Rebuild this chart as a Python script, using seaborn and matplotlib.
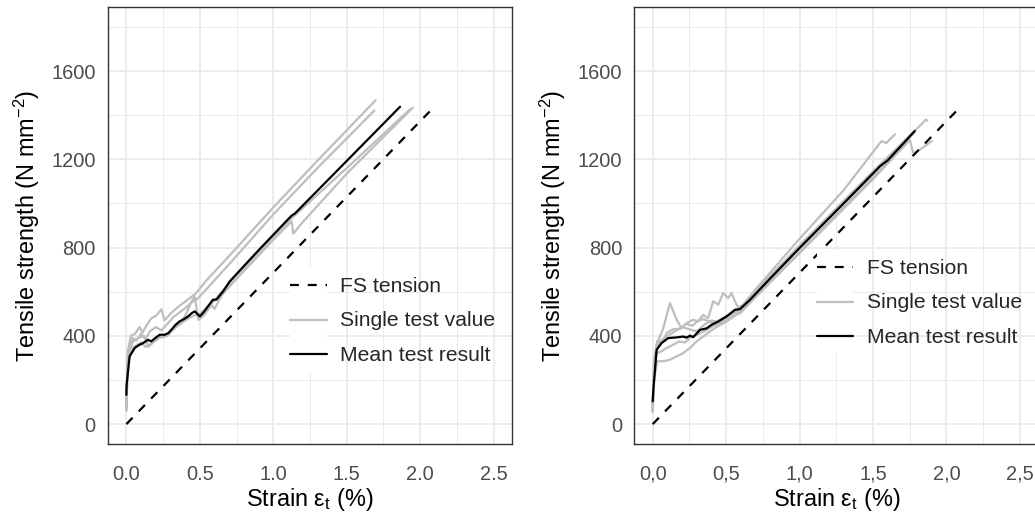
import numpy as np
import pandas as pd
import matplotlib
matplotlib.use("Agg")
import matplotlib.pyplot as plt
import seaborn as sns
from matplotlib.lines import Line2D
from matplotlib.patches import Rectangle
from matplotlib.legend_handler import HandlerLine2D
from matplotlib.ticker import MultipleLocator, FuncFormatter

# ---------------------------------------------------------------- data
# Design line (FS tension), identical for both series
fs_strain = [0.0, 2.1]
fs_stress = [0.0, 1441.0]

# Left panel: mean curve
left_mean_strain = [0.0, 0.002, 0.022, 0.057, 0.085, 0.113, 0.147, 0.17, 0.2, 0.227,
                    0.26, 0.285, 0.307, 0.335, 0.363, 0.39, 0.42, 0.445, 0.466, 0.5,
                    0.53, 0.556, 0.59, 0.613, 0.659, 0.704, 0.9, 1.125, 1.147, 1.4, 1.863]
left_mean_stress = [133, 180, 307, 345, 358, 367, 382, 375, 392, 405,
                    405, 412, 428, 450, 466, 475, 488, 503, 511, 488,
                    510, 534, 564, 564, 602, 647, 788, 945, 954, 1125, 1438]

# Left panel: single specimens
left_t1_strain = [0.0, 0.01, 0.03, 0.06, 0.09, 0.11, 0.14, 0.17, 0.2, 0.238, 0.26, 0.3,
                  0.35, 0.4, 0.44, 0.47, 0.55, 0.704, 1.0, 1.3, 1.697]
left_t1_stress = [70, 330, 400, 410, 440, 415, 450, 480, 490, 520, 470, 500,
                  530, 555, 575, 590, 655, 765, 982, 1193, 1468]
left_t2_strain = [0.0, 0.01, 0.04, 0.07, 0.1, 0.13, 0.16, 0.2, 0.24, 0.28, 0.32, 0.36,
                  0.4, 0.45, 0.48, 0.55, 0.704, 1.0, 1.3, 1.688]
left_t2_stress = [60, 320, 390, 380, 410, 385, 420, 440, 425, 455, 485, 505,
                  525, 555, 565, 615, 728, 950, 1160, 1421]
left_t3_strain = [0.0, 0.01, 0.04, 0.08, 0.12, 0.15, 0.19, 0.23, 0.27, 0.32, 0.36, 0.4,
                  0.44, 0.465, 0.49, 0.53, 0.58, 0.6, 0.65, 0.704, 1.0, 1.125, 1.136,
                  1.2, 1.5, 1.95]
left_t3_stress = [65, 300, 370, 390, 400, 350, 375, 395, 405, 430, 455, 490,
                  550, 578, 472, 495, 540, 522, 585, 625, 835, 919, 863,
                  915, 1135, 1434]
left_t4_strain = [0.0, 0.01, 0.05, 0.1, 0.13, 0.18, 0.22, 0.28, 0.32, 0.4, 0.45, 0.5,
                  0.6, 0.65, 0.704, 1.0, 1.12, 1.5, 1.93]
left_t4_stress = [80, 290, 350, 370, 350, 370, 390, 400, 430, 470, 490, 500,
                  560, 600, 640, 850, 930, 1160, 1426]

# Right panel: mean curve
right_mean_strain = [0.0, 0.004, 0.027, 0.06, 0.106, 0.163, 0.208, 0.231, 0.254, 0.276,
                     0.322, 0.367, 0.401, 0.446, 0.503, 0.56, 0.594, 0.662, 0.8, 1.0,
                     1.3, 1.55, 1.6, 1.784]
right_mean_stress = [103, 150, 337, 367, 390, 393, 397, 392, 401, 394,
                     427, 434, 450, 465, 488, 518, 521, 563, 660, 798,
                     1000, 1170, 1195, 1328]

# Right panel: single specimens
right_t1_strain = [0.0, 0.01, 0.03, 0.07, 0.118, 0.163, 0.197, 0.231, 0.276, 0.31, 0.344,
                   0.378, 0.412, 0.446, 0.48, 0.514, 0.537, 0.56, 0.583, 0.62, 0.7,
                   1.0, 1.3, 1.557, 1.59, 1.65]
right_t1_stress = [65, 250, 367, 430, 549, 473, 435, 458, 473, 465, 495,
                   480, 557, 541, 594, 571, 594, 557, 526, 545, 610,
                   840, 1060, 1282, 1274, 1313]
right_t2_strain = [0.0, 0.01, 0.03, 0.07, 0.095, 0.14, 0.186, 0.231, 0.27, 0.31, 0.35,
                   0.4, 0.45, 0.5, 0.56, 0.62, 0.7, 1.0, 1.5, 1.8, 1.84, 1.86, 1.87]
right_t2_stress = [60, 280, 375, 375, 413, 430, 432, 455, 445, 470, 475,
                   460, 470, 490, 505, 535, 600, 810, 1145, 1340, 1365, 1380, 1375]
right_t3_strain = [0.0, 0.01, 0.03, 0.07, 0.118, 0.163, 0.208, 0.254, 0.3, 0.344, 0.39,
                   0.435, 0.503, 0.57, 0.639, 0.7, 1.0, 1.5, 1.75, 1.775, 1.8, 1.9]
right_t3_stress = [55, 200, 285, 285, 292, 307, 322, 345, 375, 397, 420,
                   440, 465, 496, 534, 575, 775, 1110, 1288, 1228, 1235, 1282]
right_t4_strain = [0.0, 0.01, 0.027, 0.06, 0.095, 0.14, 0.18, 0.22, 0.26, 0.3, 0.35,
                   0.4, 0.45, 0.5, 0.55, 0.6, 0.7, 1.0, 1.5, 1.72]
right_t4_stress = [60, 250, 322, 330, 345, 360, 375, 370, 395, 405, 420,
                   440, 455, 470, 490, 505, 580, 780, 1120, 1265]
right_t5_strain = [0.0, 0.01, 0.03, 0.06, 0.1, 0.15, 0.2, 0.25, 0.3, 0.35, 0.4,
                   0.45, 0.5, 0.55, 0.6, 0.65, 0.7, 1.0, 1.5, 1.78]
right_t5_stress = [70, 300, 350, 380, 400, 420, 440, 430, 420, 450, 470,
                   460, 480, 500, 530, 560, 605, 805, 1140, 1320]

legend_labels = ["FS tension", "Single test value", "Mean test result"]
x_ticks = [0.0, 0.5, 1.0, 1.5, 2.0, 2.5]
y_ticks = [0, 400, 800, 1200, 1600]

# ---------------------------------------------------------------- style
GREY = "#BEBEBE"
GRID = "#EBEBEB"
FRAME = "#333333"
TICKTXT = "#4D4D4D"
LW = 1.6
TICK = 14.4     # tick labels
LEG = 15.2      # legend entries
TITLE = 16.9    # axis titles

sns.set_theme(style="white")
plt.rcParams["font.family"] = ["Liberation Sans", "DejaVu Sans"]
plt.rcParams["mathtext.fontset"] = "custom"
plt.rcParams["mathtext.rm"] = "Liberation Sans"
plt.rcParams["mathtext.it"] = "Liberation Sans:italic"
plt.rcParams["mathtext.bf"] = "Liberation Sans:bold"


def tests_frame(tests):
    parts = []
    for i, (s, t) in enumerate(tests):
        parts.append(pd.DataFrame({"strain": s, "stress": t, "test": i}))
    return pd.concat(parts, ignore_index=True)


class KeyBoxHandler(HandlerLine2D):
    """Legend key drawn on a white square, as in ggplot's legend.key."""

    def create_artists(self, legend, orig_handle, xdescent, ydescent,
                       width, height, fontsize, trans):
        box = Rectangle((-xdescent, -ydescent), width, height,
                        facecolor="white", edgecolor="none", transform=trans)
        arts = super().create_artists(legend, orig_handle, xdescent, ydescent,
                                      width, height, fontsize, trans)
        yc = height / 2 - ydescent
        for a in arts:
            if isinstance(a, Line2D):
                a.set_ydata(np.full_like(np.asarray(a.get_xdata(), float), yc))
        return [box, *arts]


def draw_panel(ax, tests, mean_s, mean_t, decimal, legend_anchor):
    ax.set_axisbelow(True)
    df = tests_frame(tests)
    sns.lineplot(data=df, x="strain", y="stress", units="test", estimator=None,
                 sort=False, color=GREY, lw=LW, ax=ax, legend=False)
    sns.lineplot(x=fs_strain, y=fs_stress, sort=False, estimator=None,
                 color="black", lw=LW, ax=ax, legend=False)
    ax.lines[-1].set_linestyle((0, (4, 4)))
    sns.lineplot(x=mean_s, y=mean_t, sort=False, estimator=None,
                 color="black", lw=LW, ax=ax, legend=False)

    ax.set_xlim(-0.125, 2.625)
    ax.set_ylim(-90, 1890)
    ax.set_xticks(x_ticks)
    ax.set_yticks(y_ticks)
    ax.xaxis.set_minor_locator(MultipleLocator(0.25))
    ax.yaxis.set_minor_locator(MultipleLocator(200))
    if decimal == ",":
        ax.xaxis.set_major_formatter(FuncFormatter(lambda v, p: f"{v:.1f}".replace(".", ",")))
    else:
        ax.xaxis.set_major_formatter(FuncFormatter(lambda v, p: f"{v:.1f}"))
    ax.yaxis.set_major_formatter(FuncFormatter(lambda v, p: f"{v:.0f}"))

    ax.grid(which="major", color=GRID, lw=1.3)
    ax.grid(which="minor", color=GRID, lw=0.7)
    for sp in ax.spines.values():
        sp.set_color(FRAME)
        sp.set_linewidth(1.0)
    ax.tick_params(which="major", direction="out", width=0.8, color=FRAME,
                   labelsize=TICK, labelcolor=TICKTXT)
    ax.tick_params(axis="x", which="major", length=5, pad=10.0)
    ax.tick_params(axis="y", which="major", length=5.5, pad=3.3)
    ax.tick_params(which="minor", length=0)

    ax.set_xlabel(r"Strain ε$_\mathregular{t}$ (%)", fontsize=TITLE, color="black",
                  labelpad=1.9)
    ax.set_ylabel(r"Tensile strength (N mm$^\mathregular{-2}$)", fontsize=TITLE,
                  color="black", labelpad=7)

    handles = [
        Line2D([], [], color="black", lw=LW, linestyle=(0, (4, 4))),
        Line2D([], [], color=GREY, lw=LW),
        Line2D([], [], color="black", lw=LW),
    ]
    fpx = LEG * 100 / 72.0
    ax.legend(handles, legend_labels, loc="upper left", bbox_to_anchor=legend_anchor,
              bbox_transform=ax.transAxes, frameon=False, fontsize=LEG,
              handlelength=36.7 / fpx, handleheight=2.14, handletextpad=13.3 / fpx,
              labelspacing=0.0, borderpad=0.0, borderaxespad=0.0,
              handler_map={Line2D: KeyBoxHandler(marker_pad=3.6 / fpx)})


fig = plt.figure(figsize=(10.35, 5.15), dpi=100)
W, H = 1035.0, 515.0
ax_l = fig.add_axes([108 / W, 71 / H, 404 / W, 437 / H])
ax_r = fig.add_axes([634.3 / W, 71 / H, 404 / W, 437 / H])

draw_panel(ax_l,
           [(left_t1_strain, left_t1_stress), (left_t2_strain, left_t2_stress),
            (left_t3_strain, left_t3_stress), (left_t4_strain, left_t4_stress)],
           left_mean_strain, left_mean_stress, ".", (0.4505, 0.4027))
draw_panel(ax_r,
           [(right_t1_strain, right_t1_stress), (right_t2_strain, right_t2_stress),
            (right_t3_strain, right_t3_stress), (right_t4_strain, right_t4_stress),
            (right_t5_strain, right_t5_stress)],
           right_mean_strain, right_mean_stress, ",", (0.4515, 0.444))

fig.savefig("out.png", dpi=100, facecolor="white")
